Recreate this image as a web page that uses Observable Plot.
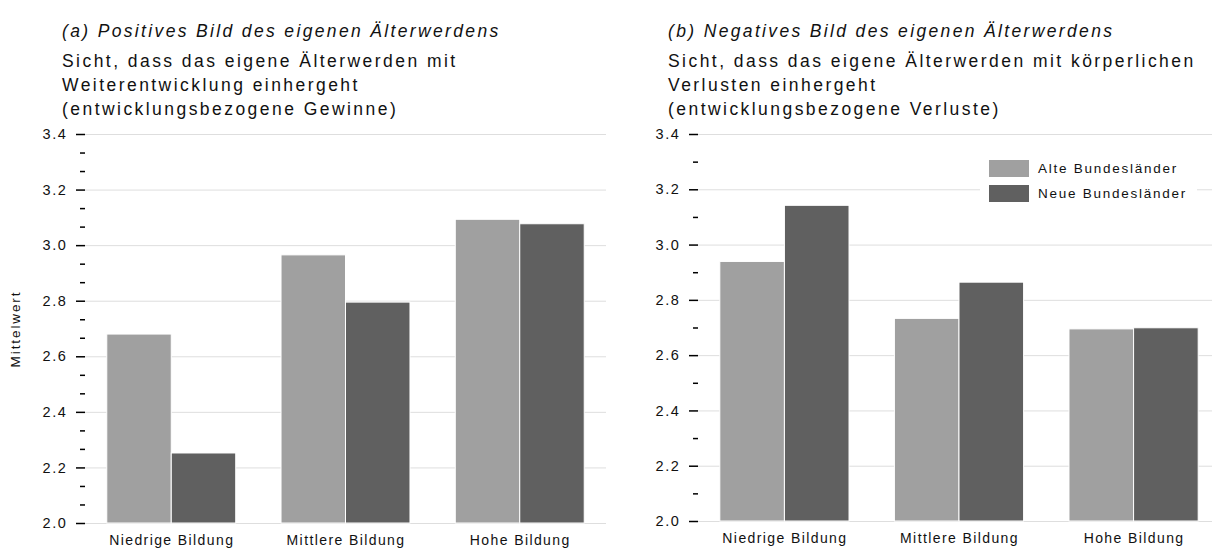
<!DOCTYPE html>
<html>
<head>
<meta charset="utf-8">
<script src="https://cdn.jsdelivr.net/npm/d3@7"></script>
<script src="https://cdn.jsdelivr.net/npm/@observablehq/plot@0.6"></script>
<style>
  html, body { margin: 0; padding: 0; background: #fff; }
  body { width: 1212px; height: 549px; overflow: hidden; position: relative; font-family: "Liberation Sans", Arial, sans-serif; color: #111; }
  .panel { position: absolute; top: 0; width: 606px; height: 549px; overflow: hidden; }
  .titles { position: absolute; top: 0; left: 0; width: 606px; height: 120px; }
  .t1 { position: absolute; left: 62px; top: 21px; font-size: 17.5px; font-style: italic; letter-spacing: 2.35px; white-space: nowrap; }
  .t2 { position: absolute; left: 62px; top: 49px; font-size: 17.5px; line-height: 24px; letter-spacing: 2.45px; white-space: nowrap; }
  .chart { position: absolute; left: 0; top: 120px; }
  .chart svg { max-width: none !important; overflow: visible; }
  .chart svg text { letter-spacing: 1.6px; }
  .chart g[aria-label="y-axis tick label"] text { font-size: 14.5px !important; letter-spacing: 1.6px; }
  .chart g[aria-label="x-axis tick label"] text { font-size: 14px !important; letter-spacing: 1.4px; }
  .chart g[aria-label="text"] text { font-size: 13.5px !important; letter-spacing: 1.9px; }
  .chart g[aria-label="y-axis tick"] { stroke: #000 !important; stroke-width: 1.5px !important; }
  .legend { position: absolute; left: 374px; top: 152px; width: 217px; height: 55px; background: #fff; font-size: 13.5px; letter-spacing: 1.75px; }
  .legend .row { position: absolute; left: 9px; height: 18px; display: flex; align-items: center; }
  .legend .sw { width: 40px; height: 17px; margin-right: 9px; }
</style>
</head>
<body>
<div class="panel" id="pa" style="left:0px">
  <div class="titles">
    <div class="t1">(a) Positives Bild des eigenen Älterwerdens</div>
    <div class="t2">Sicht, dass das eigene Älterwerden mit<br>Weiterentwicklung einhergeht<br>(entwicklungsbezogene Gewinne)</div>
  </div>
  <div class="chart" id="ca"></div>
</div>
<div class="panel" id="pb" style="left:606px">
  <div class="titles">
    <div class="t1">(b) Negatives Bild des eigenen Älterwerdens</div>
    <div class="t2">Sicht, dass das eigene Älterwerden mit körperlichen<br>Verlusten einhergeht<br>(entwicklungsbezogene Verluste)</div>
  </div>
  <div class="chart" id="cb"></div>
  <div class="legend" id="lg"></div>
</div>
<script>
// ---- data ----
const categories = ["Niedrige Bildung", "Mittlere Bildung", "Hohe Bildung"];
const series = ["Alte Bundesländer", "Neue Bundesländer"];
const colors = ["#a0a0a0", "#606060"];
const gewinneAlte = [2.68, 2.965, 3.093];
const gewinneNeue = [2.252, 2.795, 3.077];
const verlusteAlte = [2.939, 2.733, 2.695];
const verlusteNeue = [3.142, 2.864, 2.699];
const yDomain = [2.0, 3.4];
const yMajorTicks = [2.0, 2.2, 2.4, 2.6, 2.8, 3.0, 3.2, 3.4];
const yMinorLeft = [2.0667, 2.1333, 2.2667, 2.3333, 2.4667, 2.5333, 2.6667, 2.7333, 2.8667, 2.9333, 3.0667, 3.1333, 3.2667, 3.3333];
const yMinorRight = [2.1, 2.3, 2.5, 2.7, 2.9, 3.1, 3.3];

function rows(vals) { return categories.map((c, i) => ({cat: c, value: vals[i]})); }

function makePanel({alte, neue, width, marginLeft, marginBottom, minor, ylabel, bw}) {
  return Plot.plot({
    width, height: 429,
    marginTop: 14, marginBottom, marginLeft, marginRight: 0,
    style: {fontFamily: "Liberation Sans, Arial, sans-serif", fontSize: "13.5px", color: "#111", background: "transparent", maxWidth: "none", overflow: "visible"},
    x: {domain: categories, paddingInner: 0.26, paddingOuter: 0.125, round: false, axis: null},
    y: {domain: yDomain, axis: null},
    marks: [
      Plot.gridY({ticks: yMajorTicks, stroke: "#dedede", strokeOpacity: 1}),
      Plot.barY(rows(alte), {x: "cat", y1: yDomain[0], y2: "value", fill: colors[0], stroke: "#fff", strokeWidth: 1, insetRight: bw / 2}),
      Plot.barY(rows(neue), {x: "cat", y1: yDomain[0], y2: "value", fill: colors[1], stroke: "#fff", strokeWidth: 1, insetLeft: bw / 2}),
      Plot.axisY({ticks: yMajorTicks, tickSize: 9, tickPadding: 9, tickFormat: d3.format(".1f"), label: null, stroke: "#000", strokeWidth: 1.5, fontSize: 14.5}),
      Plot.axisY({ticks: minor, tickSize: 5, tickFormat: () => "", label: null, stroke: "#000", strokeWidth: 1.5}),
      Plot.axisX({tickSize: 0, tickPadding: 12, label: null, fontSize: 14}),
      ylabel ? Plot.text([ylabel], {frameAnchor: "left", textAnchor: "middle", dx: -70, rotate: -90, fontSize: 13.5, fill: "#111"}) : null
    ]
  });
}

function build(opts) {
  const p0 = makePanel({...opts, bw: 0});
  const bw = p0.scale("x").bandwidth;
  return makePanel({...opts, bw});
}

document.getElementById("ca").append(build({alte: gewinneAlte, neue: gewinneNeue, width: 606, marginLeft: 85, marginBottom: 26, minor: yMinorLeft, ylabel: "Mittelwert"}));
document.getElementById("cb").append(build({alte: verlusteAlte, neue: verlusteNeue, width: 614, marginLeft: 92, marginBottom: 28, minor: yMinorRight, ylabel: null}));

const lg = document.getElementById("lg");
series.forEach((s, i) => {
  const r = document.createElement("div");
  r.className = "row";
  r.style.top = (i === 0 ? 7 : 32) + "px";
  r.innerHTML = `<div class="sw" style="background:${colors[i]}"></div><span>${s}</span>`;
  lg.append(r);
});
</script>
</body>
</html>
